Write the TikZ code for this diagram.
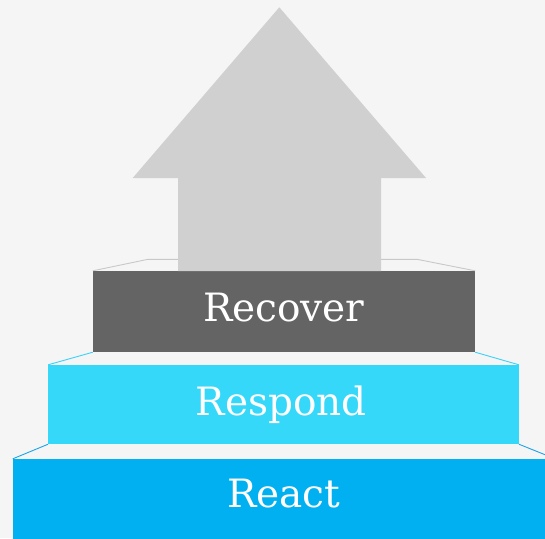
\documentclass[tikz,border=0pt]{standalone}
\usepackage{fontspec}
\setmainfont{DejaVu Serif}
\definecolor{bgc}{HTML}{F5F5F5}
\definecolor{arrowc}{HTML}{D0D0D0}
\definecolor{topline}{HTML}{C8C8C8}
\definecolor{darkc}{HTML}{646464}
\definecolor{respc}{HTML}{36D8FA}
\definecolor{respline}{HTML}{3AD2F8}
\definecolor{reactc}{HTML}{00B0F0}
\definecolor{reactline}{HTML}{1CA4E8}
\tikzset{
  stepbox/.style={draw=none, inner sep=0pt, rectangle},
  steplabel/.style={anchor=base, inner sep=0pt, text=white, font=\fontsize{39}{39}\selectfont},
  edgeline/.style={line width=0.9pt}
}
\begin{document}
\begin{tikzpicture}[x=1pt,y=-1pt]
\fill[bgc] (0,0) rectangle (545,538);
\useasboundingbox (0,0) rectangle (545,538);
\begin{scope}
\clip (0,0) rectangle (545,538);
% step boxes
\node[stepbox, fill=darkc, minimum width=382pt, minimum height=81pt] (recover) at (284,311.5) {};
\node[stepbox, fill=respc, minimum width=470.4pt, minimum height=79pt] (respond) at (283.5,404.5) {};
\node[stepbox, fill=reactc, minimum width=542pt, minimum height=82pt] (react) at (284,500) {};
% top ledge
\coordinate (tl) at (148,259.3);
\coordinate (tr) at (417,259.3);
\draw[topline, edgeline] (recover.north west) -- (tl) -- (tr) -- (recover.north east);
\draw[respline, edgeline] (recover.south west) -- (respond.north west);
\draw[respline, edgeline] (recover.south east) -- (respond.north east);
\draw[reactline, edgeline] (respond.south west) -- (react.north west);
\draw[reactline, edgeline] (respond.south east) -- (react.north east);
% arrow
\fill[arrowc] (279.3,7.3) -- (426,178) -- (381,178) -- (381,271) -- (178,271) -- (178,178) -- (132.7,178) -- cycle;
% labels
\node[steplabel] (lrecover) at (283.8,321.7) {Recover};
\node[steplabel] (lrespond) at (281.2,415) {Respond};
\node[steplabel] (lreact) at (283.7,507.7) {React};
\end{scope}
\end{tikzpicture}
\end{document}
